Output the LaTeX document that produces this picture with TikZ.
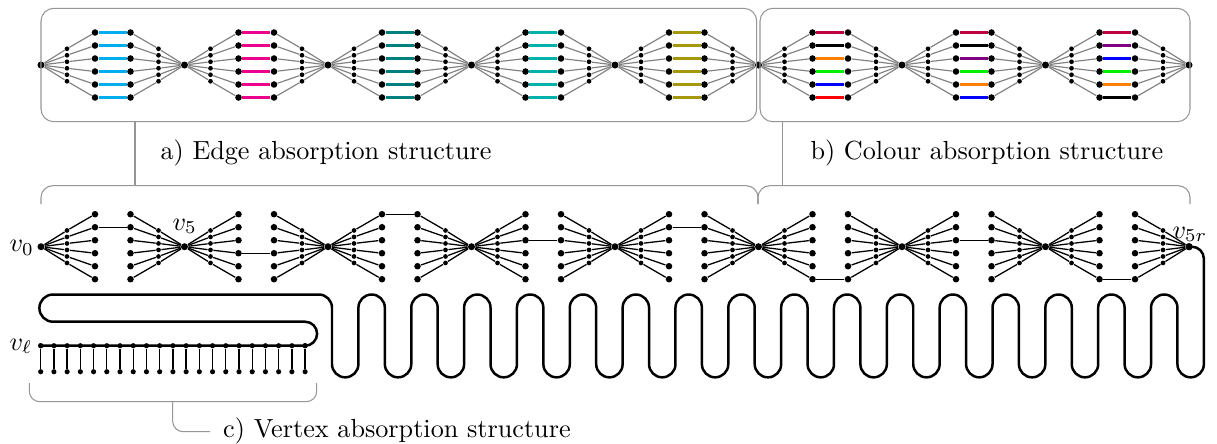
\documentclass[tikz,border=0pt]{standalone}
\definecolor{cA1}{RGB}{0,174,239}
\definecolor{cA2}{RGB}{236,0,140}
\definecolor{cA3}{RGB}{0,128,128}
\definecolor{cA4}{RGB}{0,178,170}
\definecolor{cA5}{RGB}{165,152,10}
\definecolor{cRasp}{RGB}{191,0,64}
\definecolor{cViol}{RGB}{128,0,128}
\definecolor{cGreen}{RGB}{0,240,0}
\definecolor{cBlue}{RGB}{0,0,255}
\definecolor{cOrange}{RGB}{255,128,0}
\definecolor{cRed}{RGB}{255,0,0}
\definecolor{cGrayLine}{RGB}{130,130,130}
\definecolor{cBrk}{RGB}{150,150,150}
\begin{document}
\begin{tikzpicture}[x=0.382pt,y=-0.382pt,
  hubdot/.style={circle,fill=black,inner sep=0pt,minimum size=2.68pt},
  bigdot/.style={circle,fill=black,inner sep=0pt,minimum size=2.5pt},
  smalldot/.style={circle,fill=black,inner sep=0pt,minimum size=1.8pt},
  vadot/.style={circle,fill=black,inner sep=0pt,minimum size=1.97pt},
  grayedge/.style={draw=cGrayLine,line width=0.45pt},
  blackedge/.style={draw=black,line width=0.49pt},
  coledge/.style={line width=0.8pt},
  snakepath/.style={draw=black,line width=0.95pt},
  brk/.style={draw=cBrk,line width=0.4pt},
  lbl/.style={inner sep=0pt,anchor=base west}]
\useasboundingbox (0,0) rectangle (1217,443);

% ---------- top row (a and b) ----------
\foreach \k in {0,...,8} \node[hubdot] (th\k) at ({41+143.5*\k},65) {};
\foreach \k in {0,...,7} {
  \foreach \i in {1,...,6} {
    \pgfmathsetmacro\dy{13*(\i-3.5)}
    \node[smalldot] (tls\k-\i) at ({41+143.5*\k+26},{65+\dy/2}) {};
    \node[bigdot]   (tlb\k-\i) at ({41+143.5*\k+54},{65+\dy}) {};
    \node[bigdot]   (trb\k-\i) at ({41+143.5*\k+89.5},{65+\dy}) {};
    \node[smalldot] (trs\k-\i) at ({41+143.5*\k+117.5},{65+\dy/2}) {};
  }
}
\foreach \k [evaluate=\k as \kn using int(\k+1)] in {0,...,7} {
  \foreach \i in {1,...,6} {
    \draw[grayedge] (th\k) -- (tls\k-\i) -- (tlb\k-\i);
    \draw[grayedge] (th\kn) -- (trs\k-\i) -- (trb\k-\i);
  }
}
\foreach \k/\cs in {0/{cA1,cA1,cA1,cA1,cA1,cA1},
                    1/{cA2,cA2,cA2,cA2,cA2,cA2},
                    2/{cA3,cA3,cA3,cA3,cA3,cA3},
                    3/{cA4,cA4,cA4,cA4,cA4,cA4},
                    4/{cA5,cA5,cA5,cA5,cA5,cA5},
                    5/{cRasp,black,cOrange,cGreen,cBlue,cRed},
                    6/{cRasp,black,cViol,cGreen,cOrange,cBlue},
                    7/{cRasp,cViol,cBlue,cGreen,cOrange,black}} {
  \foreach \c [count=\i] in \cs {
    \draw[coledge,draw=\c] (tlb\k-\i) -- (trb\k-\i);
  }
}

% ---------- bottom row ----------
\foreach \k in {0,...,8} \node[hubdot] (bh\k) at ({41+143.5*\k},246.7) {};
\foreach \k in {0,...,7} {
  \foreach \i in {1,...,6} {
    \pgfmathsetmacro\dy{13*(\i-3.5)}
    \node[smalldot] (bls\k-\i) at ({41+143.5*\k+26},{246.7+\dy/2}) {};
    \node[bigdot]   (blb\k-\i) at ({41+143.5*\k+54},{246.7+\dy}) {};
    \node[bigdot]   (brb\k-\i) at ({41+143.5*\k+89.5},{246.7+\dy}) {};
    \node[smalldot] (brs\k-\i) at ({41+143.5*\k+117.5},{246.7+\dy/2}) {};
  }
}
\foreach \k [evaluate=\k as \kn using int(\k+1)] in {0,...,7} {
  \foreach \i in {1,...,6} {
    \draw[blackedge] (bh\k) -- (bls\k-\i) -- (blb\k-\i);
    \draw[blackedge] (bh\kn) -- (brs\k-\i) -- (brb\k-\i);
  }
}
\foreach \k/\r in {0/2,1/4,2/1,3/3,4/2,5/6,6/3,7/6}
  \draw[blackedge] (blb\k-\r) -- (brb\k-\r);

\node[lbl] (lv0) at (9,251.7) {$v_0$};
\node[lbl] (lv5) at (172,230) {$v_5$};
\node[lbl] (lv5r) at (1172,238) {$v_{5r}$};

% ---------- vertex absorption ----------
\foreach \j in {0,...,20} {
  \node[vadot] (vt\j) at ({40.7+13.22*\j},345.7) {};
  \node[vadot] (vb\j) at ({40.7+13.22*\j},371.7) {};
  \draw[blackedge] (vt\j) -- (vb\j);
}
\node[lbl] (lvl) at (9,350) {$v_\ell$};

% ---------- long path ----------
\draw[snakepath] (vt0.center) -- (vt20.center)
  arc[start angle=90,end angle=-90,radius=12]
  -- (53,321.7) arc[start angle=90,end angle=270,radius=13.6]
  -- (318.79,294.5) arc[start angle=-90,end angle=0,radius=13.21]
  \foreach \n in {1,...,16} {
    -- ++(0,56.4) arc[start angle=180,end angle=0,radius=13.21]
    -- ++(0,-56.4) arc[start angle=180,end angle=360,radius=13.21]
  }
  -- ++(0,56.4) arc[start angle=180,end angle=0,radius=13.21]
  -- (1203.86,258.7) arc[start angle=0,end angle=-90,radius=12]
  -- (bh8.center);
\foreach \j in {0,20} \node[vadot] at (vt\j) {};
\node[hubdot] at (bh8) {};

% ---------- annotations ----------
\draw[brk,rounded corners=4.9pt] (41,8.3) rectangle (756.7,121.7);
\draw[brk,rounded corners=4.9pt] (760,8.3) rectangle (1190,121.7);
\draw[brk,rounded corners=4.5pt] (41,204) -- (41,185.7) -- (758,185.7) -- (758,204);
\draw[brk,rounded corners=4.5pt] (758,204) -- (758,185.7) -- (1190,185.7) -- (1190,204);
\draw[brk] (135,121.7) -- (135,185.7);
\draw[brk] (782.7,121.7) -- (782.7,185.7);
\draw[brk,rounded corners=4pt] (29.3,383) -- (29.3,401.7) -- (316.7,401.7) -- (316.7,383);
\draw[brk,rounded corners=4pt] (172.7,401.7) -- (172.7,431.7) -- (210,431.7);

\node[lbl] (la) at (160,159.5) {a) Edge absorption structure};
\node[lbl] (lb) at (810,159.5) {b) Colour absorption structure};
\node[lbl] (lc) at (222.7,437) {c) Vertex absorption structure};
\end{tikzpicture}
\end{document}
